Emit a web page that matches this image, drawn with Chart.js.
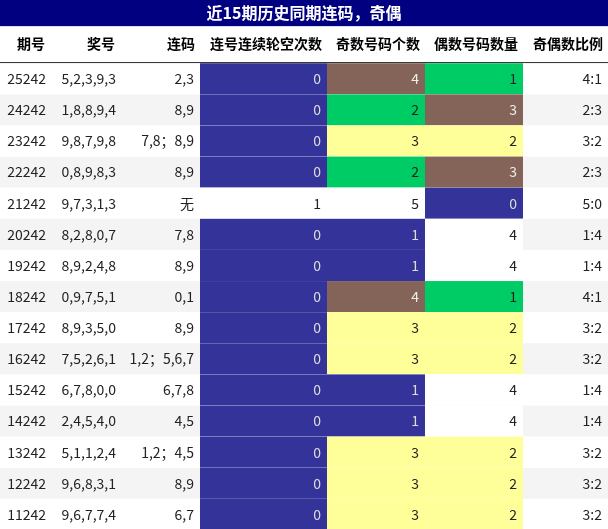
<!DOCTYPE html>
<html>
<head>
<meta charset="utf-8">
<script src="https://cdn.jsdelivr.net/npm/chart.js@4"></script>
<style>
  body { margin: 0; background: #fff; }
  #wrap { width: 608px; height: 529px; }
</style>
</head>
<body>
<div id="wrap"><canvas id="table"></canvas></div>
<script>
const title = '近15期历史同期连码，奇偶';
const headers = ['期号', '奖号', '连码', '连号连续轮空次数', '奇数号码个数', '偶数号码数量', '奇偶数比例'];
const issues = ['25242', '24242', '23242', '22242', '21242', '20242', '19242', '18242', '17242', '16242', '15242', '14242', '13242', '12242', '11242'];
const numbers = ['5,2,3,9,3', '1,8,8,9,4', '9,8,7,9,8', '0,8,9,8,3', '9,7,3,1,3', '8,2,8,0,7', '8,9,2,4,8', '0,9,7,5,1', '8,9,3,5,0', '7,5,2,6,1', '6,7,8,0,0', '2,4,5,4,0', '5,1,1,2,4', '9,6,8,3,1', '9,6,7,7,4'];
const pairs = ['2,3', '8,9', '7,8；8,9', '8,9', '无', '7,8', '8,9', '0,1', '8,9', '1,2；5,6,7', '6,7,8', '4,5', '1,2；4,5', '8,9', '6,7'];
const missStreak = [0, 0, 0, 0, 1, 0, 0, 0, 0, 0, 0, 0, 0, 0, 0];
const oddCount = [4, 2, 3, 2, 5, 1, 1, 4, 3, 3, 1, 1, 3, 3, 3];
const evenCount = [1, 3, 2, 3, 0, 4, 4, 1, 2, 2, 4, 4, 2, 2, 2];
const ratios = ['4:1', '2:3', '3:2', '2:3', '5:0', '1:4', '1:4', '4:1', '3:2', '3:2', '1:4', '1:4', '3:2', '3:2', '3:2'];

// layout (pixels on the x scale, rows on the y scale)
const colEdges = [0, 50, 120, 200, 327, 425, 523, 608];
const fills = ['#333399', '#00cc66', '#ffff99', '#846458', '#ffffff'];
const inks = ['#dddddd', '#222222', '#222222', '#eeeeee', '#222222'];

function cellStyle(col, r) {
  if (col === 3) return missStreak[r] === 0 ? 0 : 4;
  if (col === 4) return oddCount[r] - 1;
  if (col === 5) return evenCount[r];
  return -1;
}

const tablePlugin = {
  id: 'tableCells',
  afterDraw(chart) {
    const {ctx, scales: {x, y}} = chart;
    const X = v => x.getPixelForValue(v);
    const Y = v => y.getPixelForValue(v);
    ctx.save();
    // title bar
    ctx.fillStyle = '#000080';
    ctx.fillRect(X(0), Y(-2), X(608) - X(0), Y(-1.16) - Y(-2));
    ctx.fillStyle = '#fff';
    ctx.font = 'bold 16px "Noto Sans CJK SC"';
    ctx.textAlign = 'center';
    ctx.textBaseline = 'middle';
    ctx.fillText(title, X(304), (Y(-2) + Y(-1.16)) / 2);
    // header
    ctx.fillStyle = '#000';
    ctx.font = 'bold 14px "Noto Sans CJK SC"';
    ctx.textAlign = 'right';
    const hy = (Y(-1.16) + Y(0)) / 2;
    headers.forEach((h, c) => ctx.fillText(h, X(colEdges[c + 1]) - 5, hy));
    ctx.strokeStyle = '#000';
    ctx.lineWidth = 1;
    ctx.beginPath();
    ctx.moveTo(X(0), Y(0) + 0.5);
    ctx.lineTo(X(608), Y(0) + 0.5);
    ctx.stroke();
    // rows
    issues.forEach((iss, r) => {
      const top = Y(r), bot = Y(r + 1), mid = (top + bot) / 2;
      ctx.fillStyle = r % 2 === 0 ? '#ffffff' : '#f4f4f4';
      ctx.fillRect(X(0), top + 1, X(608) - X(0), bot - top);
      const texts = [iss, numbers[r], pairs[r], missStreak[r], oddCount[r], evenCount[r], ratios[r]];
      texts.forEach((t, c) => {
        const s = cellStyle(c, r);
        if (s >= 0) {
          ctx.fillStyle = fills[s];
          ctx.fillRect(X(colEdges[c]), top + 1, X(colEdges[c + 1]) - X(colEdges[c]), bot - top);
        }
        ctx.fillStyle = s >= 0 ? inks[s] : '#222';
        ctx.font = '14px "Noto Sans CJK SC"';
        ctx.textAlign = 'right';
        const xr = c === 0 ? X(colEdges[1]) - 4 : c === 1 ? X(colEdges[2]) - 4 : X(colEdges[c + 1]) - 6;
        ctx.fillText(String(t), xr, mid + 1);
      });
    });
    ctx.restore();
  }
};

new Chart(document.getElementById('table'), {
  type: 'scatter',
  data: {datasets: [{data: []}]},
  options: {
    responsive: true,
    maintainAspectRatio: false,
    animation: false,
    layout: {padding: 0},
    plugins: {legend: {display: false}, tooltip: {enabled: false}},
    scales: {
      x: {type: 'linear', min: 0, max: 608, display: false},
      y: {type: 'linear', min: -2, max: 15, reverse: true, display: false}
    }
  },
  plugins: [tablePlugin]
});
</script>
</body>
</html>
